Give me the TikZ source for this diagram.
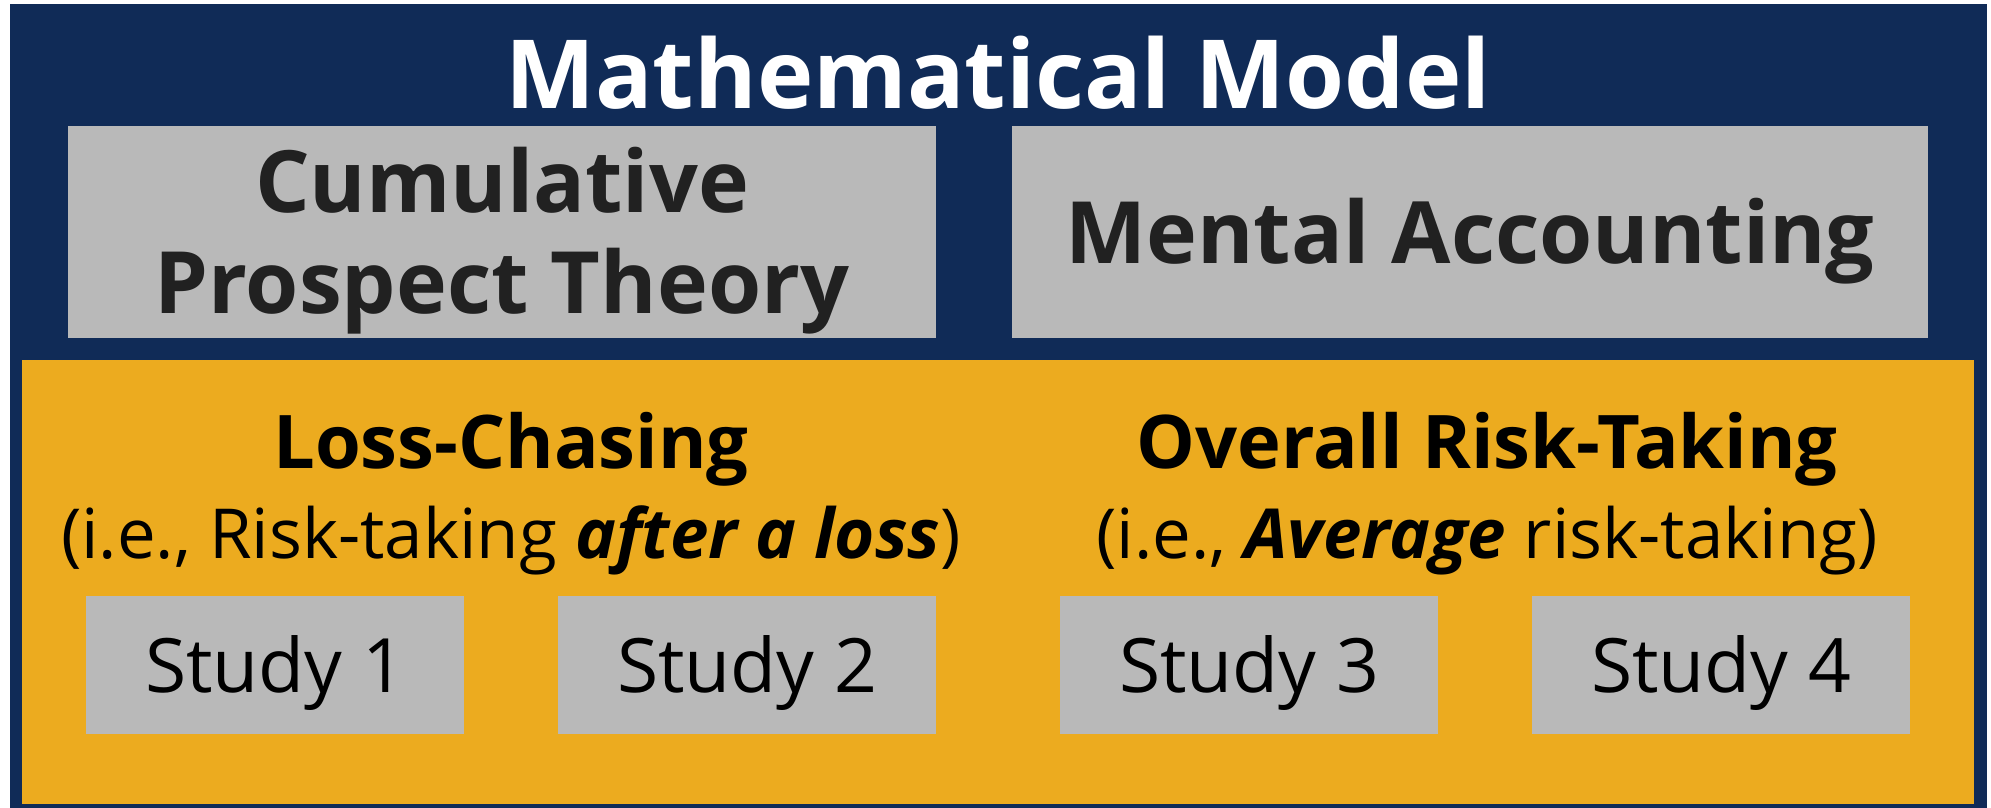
\documentclass[tikz,border=0pt]{standalone}
\usepackage{fontspec}
\setmainfont{Open Sans}
\usepackage{tikz}
\usetikzlibrary{positioning}
\usepackage{xcolor}
\definecolor{modelnavy}{RGB}{16,43,87}
\definecolor{riskorange}{RGB}{236,171,31}
\definecolor{boxgray}{RGB}{185,185,185}
\definecolor{textdark}{RGB}{33,33,33}

\begin{document}
\begin{tikzpicture}[
    x=0.5pt, y=-0.5pt,
    node distance=47pt and 47pt,
    panel/.style={inner sep=0pt, outer sep=0pt},
    theory/.style={panel, fill=boxgray, text=textdark, minimum height=106pt,
                   align=center, font=\fontsize{43}{50.5}\selectfont\bfseries},
    study/.style={panel, fill=boxgray, minimum width=189pt, minimum height=69pt,
                  text height=27pt, text depth=0pt, font=\fontsize{37.5}{45}\selectfont},
    grouphead/.style={anchor=base, font=\fontsize{37}{44}\selectfont\bfseries},
    groupsub/.style={anchor=base, font=\fontsize{34.5}{41}\selectfont}
  ]
  \useasboundingbox (0,0) rectangle (1991,808);

  % Model frame
  \node[panel, fill=modelnavy, minimum width=988.5pt, minimum height=402pt]
        (model) at (998.5,406) {};
  \node[anchor=base, text=white, font=\fontsize{47.7}{57}\selectfont\bfseries]
        (title) at (998,109) {Mathematical Model};

  % Theories
  \node[theory, minimum width=434pt, text height=81pt, text depth=0pt]
        (cpt) at (502,232) {Cumulative\\Prospect Theory};
  \node[theory, minimum width=458pt, text height=31pt, text depth=0pt]
        (mental) at (1470,232) {Mental Accounting};

  % Risk-taking panel
  \node[panel, fill=riskorange, minimum width=976pt, minimum height=222pt]
        (risk) at (998,582) {};

  % Loss-chasing studies
  \node[grouphead] (losshead) at (511,468) {Loss-Chasing};
  \node[groupsub] (losssub) at (511,558)
        {(i.e., Risk-taking \textbf{\textit{after a loss}})};
  \node[study] (study1) at (275,665) {Study 1};
  \node[study, right=of study1] (study2) {Study 2};

  % Overall risk-taking studies
  \node[grouphead] (overhead) at (1487,468) {Overall Risk-Taking};
  \node[groupsub] (oversub) at (1487,558)
        {(i.e., \textbf{\textit{Average}} risk-taking)};
  \node[study] (study3) at (1249,665) {Study 3};
  \node[study, right=of study3] (study4) {Study 4};
\end{tikzpicture}
\end{document}
